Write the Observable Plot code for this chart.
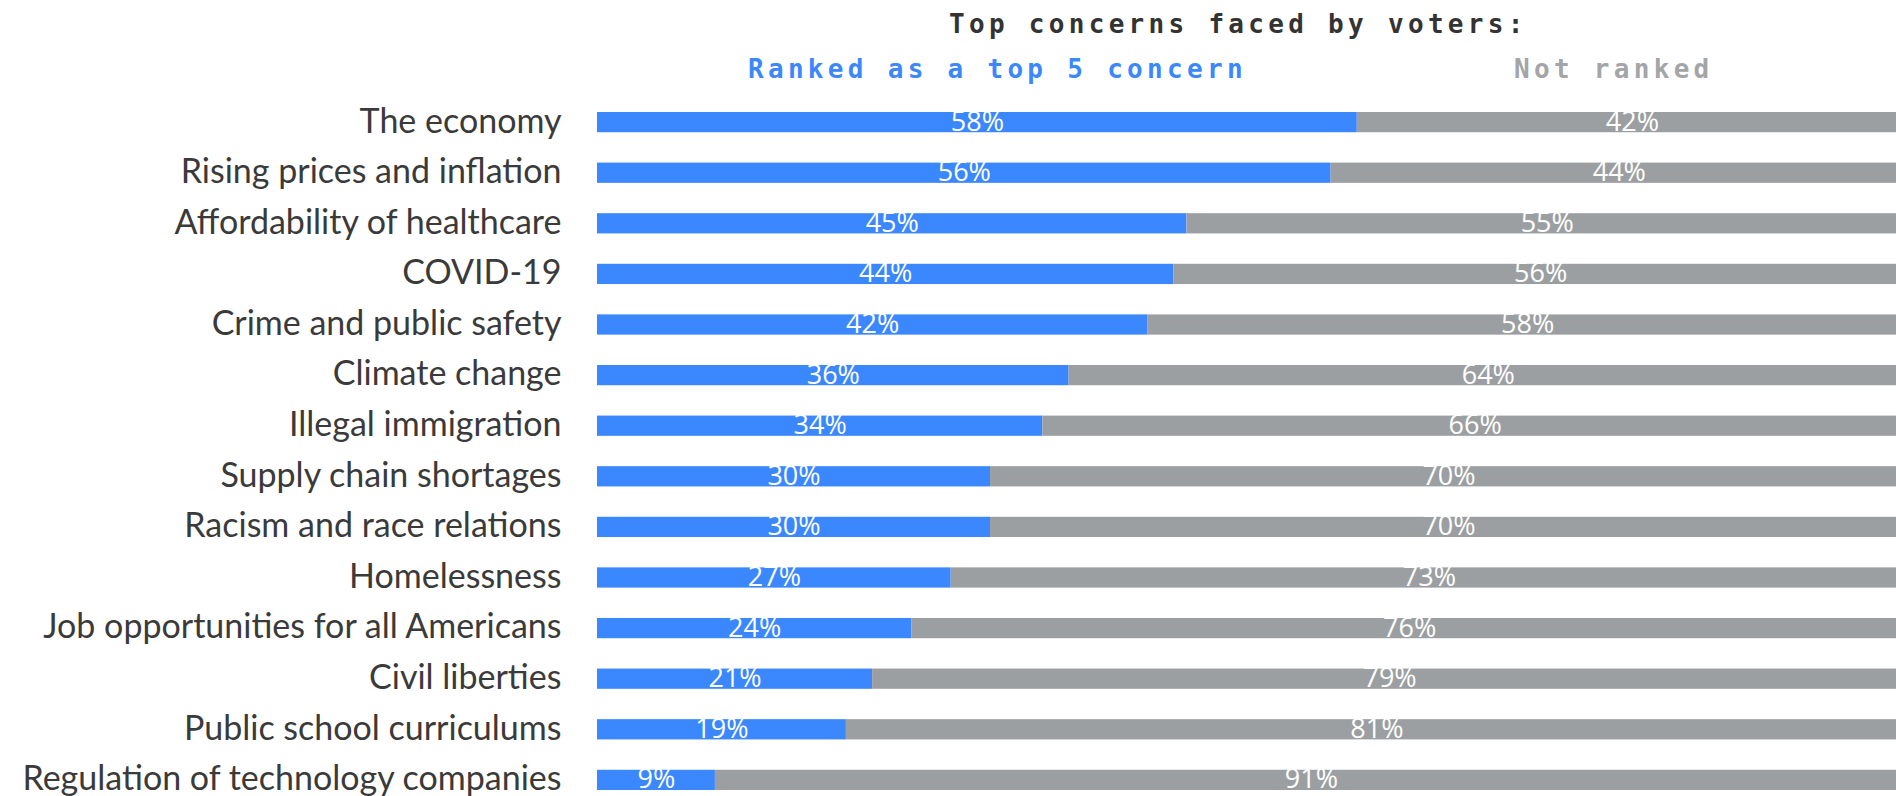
<!DOCTYPE html>
<html>
<head>
<meta charset="utf-8">
<script src="https://cdn.jsdelivr.net/npm/d3@7"></script>
<script src="https://cdn.jsdelivr.net/npm/@observablehq/plot@0.6"></script>
<style>
  html, body { margin: 0; padding: 0; background: #fff; overflow: hidden; width: 1896px; height: 796px; }
  #header { position: relative; height: 96px; width: 1896px; font-family: "DejaVu Sans Mono", monospace; font-weight: bold; }
  #header span { position: absolute; white-space: nowrap; font-size: 26px; letter-spacing: 4.3px; line-height: 1; }
  #title { left: 949px; top: 11px; color: #333333; }
  #leg1 { left: 748px; top: 56px; color: #3b87fd; }
  #leg2 { left: 1514px; top: 56px; color: #a3a5a8; }
  #chart { width: 1896px; height: 700px; overflow: hidden; }
  #chart svg { display: block; max-width: none !important; }
</style>
</head>
<body>
<div id="header">
  <span id="title">Top concerns faced by voters:</span>
  <span id="leg1">Ranked as a top 5 concern</span>
  <span id="leg2">Not ranked</span>
</div>
<div id="chart"></div>
<script>
const categories = [
  "The economy",
  "Rising prices and inflation",
  "Affordability of healthcare",
  "COVID-19",
  "Crime and public safety",
  "Climate change",
  "Illegal immigration",
  "Supply chain shortages",
  "Racism and race relations",
  "Homelessness",
  "Job opportunities for all Americans",
  "Civil liberties",
  "Public school curriculums",
  "Regulation of technology companies"
];
const ranked    = [58, 56, 45, 44, 42, 36, 34, 30, 30, 27, 24, 21, 19, 9];
const notRanked = [42, 44, 55, 56, 58, 64, 66, 70, 70, 73, 76, 79, 81, 91];
const seriesNames = ["Ranked as a top 5 concern", "Not ranked"];
const seriesColors = ["#3b87fd", "#9c9fa2"];

const rows = [];
categories.forEach((c, i) => {
  rows.push({cat: c, series: seriesNames[0], value: ranked[i], order: 0});
  rows.push({cat: c, series: seriesNames[1], value: notRanked[i], order: 1});
});

const chart = Plot.plot({
  width: 1907,
  height: 700,
  marginLeft: 597,
  marginRight: 0,
  marginTop: 16,
  marginBottom: 6,
  style: {background: "transparent", maxWidth: "none"},
  x: {domain: [0, 100], axis: null},
  y: {domain: categories, paddingInner: 0.6, paddingOuter: 0, round: false, label: null},
  color: {domain: seriesNames, range: seriesColors},
  marks: [
    Plot.barX(rows, Plot.stackX({x: "value", y: "cat", fill: "series", order: "order"})),
    Plot.text(rows, Plot.stackX({
      x: "value", y: "cat", z: "series", order: "order",
      text: d => d.value + "%",
      fill: "white",
      fontSize: 27,
      fontFamily: "Open Sans",
      lineAnchor: "bottom",
      dy: 8
    })),
    Plot.axisY({
      tickSize: 0,
      tickPadding: 36,
      fontSize: 34,
      fontFamily: "Lato",
      color: "#3a3a3a",
      dy: -1,
      label: null
    })
  ]
});
document.getElementById("chart").appendChild(chart);
</script>
</body>
</html>
